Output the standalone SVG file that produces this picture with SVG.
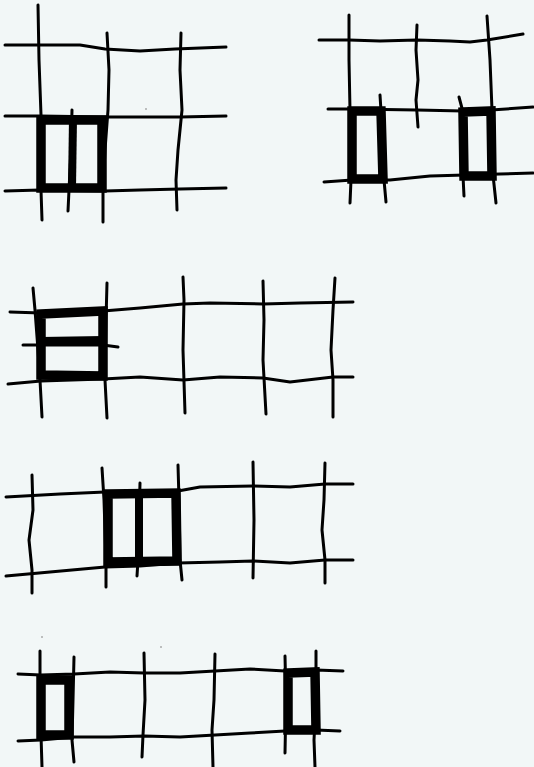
<svg xmlns="http://www.w3.org/2000/svg" width="534" height="767" viewBox="0 0 534 767">
<style>
.t{stroke:#000;stroke-width:3;fill:none;stroke-linecap:round;stroke-linejoin:round}
.k{stroke:#000;stroke-width:9.5;fill:none;stroke-linecap:square;stroke-linejoin:miter}
.m{stroke:#000;stroke-width:8;fill:none;stroke-linecap:butt}
.d{fill:#777}
</style>
<rect width="534" height="767" fill="#f2f7f7"/>
<g id="panel1">
<path class="t" d="M5,45 L40,45 L80,45 L105,49 L140,51 L175,49 L226,47"/>
<path class="t" d="M5,116 L40,116 L105,117 L140,117 L180,117 L226,116"/>
<path class="t" d="M5,191 L40,190 L105,191 L140,190 L180,189 L226,188"/>
<path class="t" d="M38,5 L39,60 L41,115 L41,190 L42,220"/>
<path class="t" d="M107,33 L109,70 L108,110 L105,150 L103,190 L103,222"/>
<path class="t" d="M181,33 L180,70 L182,110 L178,150 L176,180 L177,210"/>
<path class="t" d="M72,110 L71,150 L69,190 L68,211"/>
<path class="k" d="M41,120 L102,120 L102,188 L41,188 Z"/>
<path class="m" d="M73,118 L72,188"/>
<circle class="d" cx="146" cy="109" r="0.8"/>
</g>
<g id="panel2">
<path class="t" d="M319,40 L349,40 L380,41 L417,40 L450,41 L470,42 L487,40 L523,34"/>
<path class="t" d="M328,109 L352,109 L417,110 L463,111 L491,110 L533,107"/>
<path class="t" d="M324,182 L352,180 L390,180 L430,176 L465,175 L500,174 L533,173"/>
<path class="t" d="M349,15 L349,60 L350,110 L351,180 L350,203"/>
<path class="t" d="M417,25 L416,50 L418,80 L416,100 L418,127"/>
<path class="t" d="M487,16 L490,60 L492,110 L493,175 L496,203"/>
<path class="t" d="M380,95 L381,111 L384,180 L386,202"/>
<path class="t" d="M459,97 L463,112 L463,176 L464,196"/>
<path class="k" d="M352,111 L381,111 L383,179 L352,179 Z"/>
<path class="k" d="M463,112 L491,111 L492,176 L464,176 Z"/>
</g>
<g id="panel3">
<path class="t" d="M10,312 L41,313 L103,311 L140,308 L183,304 L210,303 L263,304 L300,303 L353,302"/>
<path class="t" d="M23,345 L41,345 L103,345 L118,347"/>
<path class="t" d="M8,384 L41,381 L103,379 L140,377 L183,380 L220,377 L263,378 L290,382 L333,377 L353,377"/>
<path class="t" d="M33,288 L35,310 L38,350 L40,380 L42,417"/>
<path class="t" d="M107,283 L106,320 L105,380 L107,418"/>
<path class="t" d="M183,277 L184,300 L183,350 L185,413"/>
<path class="t" d="M263,281 L264,320 L263,360 L266,414"/>
<path class="t" d="M335,278 L333,310 L331,350 L333,380 L333,417"/>
<path class="k" d="M41,314 L103,311 L103,376 L41,375 Z"/>
<path class="m" d="M41,341 L103,340"/>
</g>
<g id="panel4">
<path class="t" d="M6,497 L60,494 L105,492 L140,492 L178,491 L200,487 L253,486 L290,487 L325,484 L353,484"/>
<path class="t" d="M6,576 L50,572 L105,567 L140,566 L178,563 L220,562 L253,561 L290,563 L325,560 L353,560"/>
<path class="t" d="M32,475 L33,510 L29,540 L32,570 L32,593"/>
<path class="t" d="M102,468 L104,500 L106,560 L106,587"/>
<path class="t" d="M140,483 L139,520 L138,560 L137,576"/>
<path class="t" d="M178,465 L179,500 L180,560 L182,580"/>
<path class="t" d="M253,462 L254,520 L253,578"/>
<path class="t" d="M325,463 L324,500 L322,530 L325,560 L325,583"/>
<path class="k" d="M108,494 L176,493 L177,561 L108,562 Z"/>
<path class="m" d="M139,490 L139,565"/>
</g>
<g id="panel5">
<path class="t" d="M18,674 L41,675 L74,674 L110,672 L144,673 L180,673 L215,671 L250,669 L285,671 L316,670 L343,671"/>
<path class="t" d="M18,741 L41,740 L74,737 L110,737 L144,736 L180,737 L215,735 L250,733 L285,731 L316,730 L340,731"/>
<path class="t" d="M40,651 L40,680 L41,735 L42,767"/>
<path class="t" d="M74,657 L73,700 L72,740 L74,762"/>
<path class="t" d="M144,653 L145,700 L143,735 L142,757"/>
<path class="t" d="M215,654 L214,700 L212,730 L213,767"/>
<path class="t" d="M285,656 L286,700 L285,753"/>
<path class="t" d="M316,651 L316,700 L314,740 L315,767"/>
<path class="k" d="M41,680 L69,680 L69,735 L41,735 Z"/>
<path class="k" d="M288,673 L315,672 L316,730 L288,730 Z"/>
<circle class="d" cx="42" cy="637" r="0.8"/>
<circle class="d" cx="161" cy="647" r="0.8"/>
</g>
</svg>
